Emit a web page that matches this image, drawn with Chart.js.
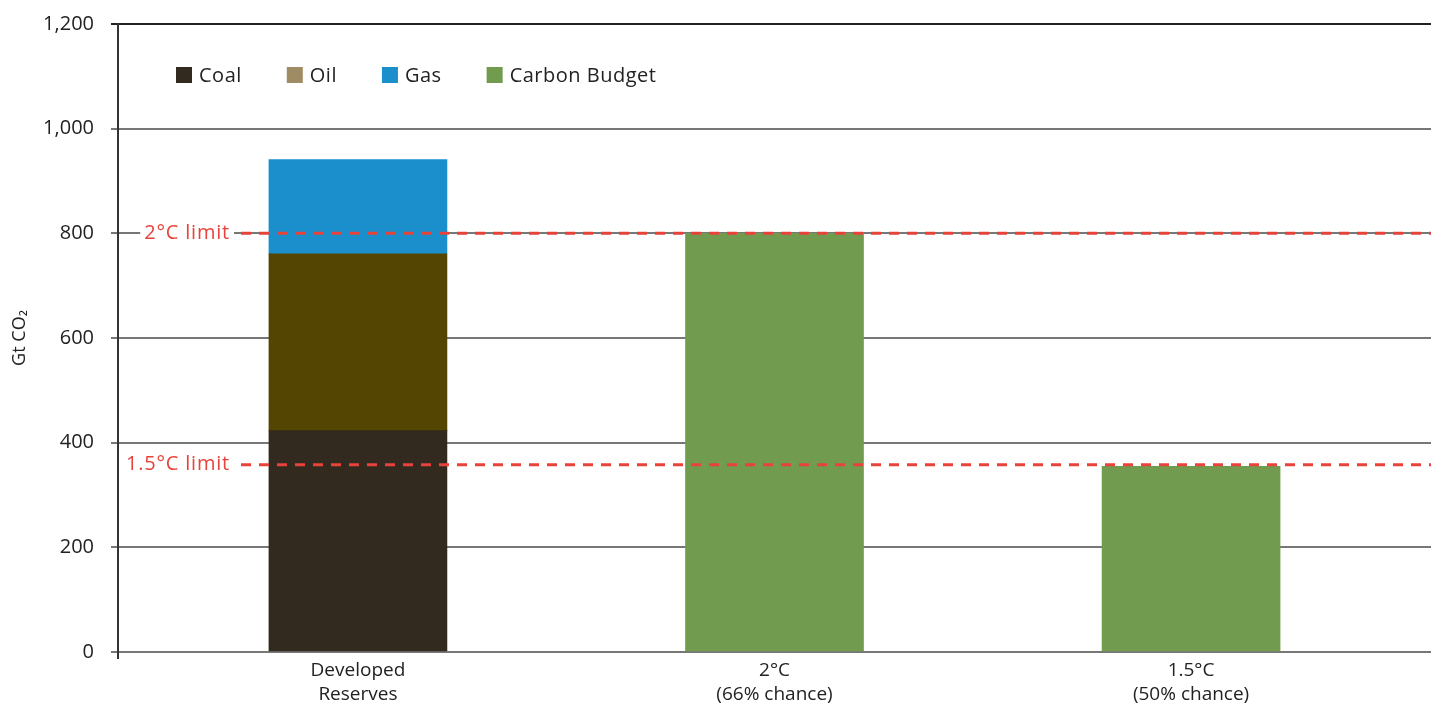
<!DOCTYPE html>
<html>
<head>
<meta charset="utf-8">
<script src="https://cdn.jsdelivr.net/npm/chart.js@4.4.1/dist/chart.umd.min.js"></script>
<style>
  html, body { margin: 0; padding: 0; background: #fff; overflow: hidden; }
  #chart { display: block; }
</style>
</head>
<body>
<canvas id="chart" width="1431" height="705"></canvas>
<script>
// data
const categories = [['Developed', 'Reserves'], ['2°C', '(66% chance)'], ['1.5°C', '(50% chance)']];
const coal = [423, null, null];
const oil = [338, null, null];
const gas = [180, null, null];
const carbonBudget = [null, 800, 355];
const yTicks = [0, 200, 400, 600, 800, 1000, 1200];
const limitValues = [800, 358];
const limitLabels = ['2°C limit', '1.5°C limit'];

const FONT = '"Open Sans", Lato, sans-serif';
const X_MIN = -0.576, X_MAX = 2.576;

function points(arr) {
    return arr.map((v, i) => ({ x: i, y: v })).filter(p => p.y !== null);
}

// legend drawn inside the plot, swatch colours as in the original
const legendPlugin = {
    id: 'insideLegend',
    afterDraw(chart) {
        const ctx = chart.ctx;
        const swatches = ['#332a1f', '#a08c64', '#1b8fcc', '#719b4e'];
        let x = 176;
        const y = 75;
        ctx.save();
        ctx.font = '20px ' + FONT;
        ctx.letterSpacing = '0.5px';
        ctx.textBaseline = 'middle';
        chart.data.datasets.forEach((ds, i) => {
            ctx.fillStyle = swatches[i];
            ctx.fillRect(x, y - 8, 16, 16);
            ctx.fillStyle = '#222';
            ctx.fillText(ds.label, x + 23, y + 1);
            x += 23 + ctx.measureText(ds.label).width + 45;
        });
        ctx.restore();
    }
};

const limitPlugin = {
    id: 'limits',
    afterDatasetsDraw(chart) {
        const ctx = chart.ctx;
        const ys = chart.scales.y;
        const area = chart.chartArea;
        ctx.save();
        ctx.font = '20px ' + FONT;
        ctx.letterSpacing = '0.8px';
        limitValues.forEach((v, i) => {
            const py = ys.getPixelForValue(v);
            const label = limitLabels[i];
            const w = ctx.measureText(label).width;
            const textRight = 230;
            const textLeft = textRight - w;
            // white box behind the label
            ctx.fillStyle = '#fff';
            ctx.fillRect(textLeft - 4, py - 11, w + 8, 22);
            ctx.fillStyle = '#e8433a';
            ctx.textBaseline = 'middle';
            ctx.textAlign = 'left';
            ctx.fillText(label, textLeft, py);
            ctx.strokeStyle = '#e8433a';
            ctx.lineWidth = 3;
            ctx.setLineDash([10, 8]);
            ctx.beginPath();
            ctx.moveTo(textRight + 11, py);
            ctx.lineTo(area.right, py);
            ctx.stroke();
        });
        ctx.restore();
    }
};

const ctx = document.getElementById('chart').getContext('2d');
new Chart(ctx, {
    type: 'bar',
    data: {
        datasets: [
            { label: 'Coal', data: points(coal), backgroundColor: '#332a1f' },
            { label: 'Oil', data: points(oil), backgroundColor: '#554503' },
            { label: 'Gas', data: points(gas), backgroundColor: '#1b8fcc' },
            { label: 'Carbon Budget', data: points(carbonBudget), backgroundColor: '#719b4e' }
        ]
    },
    options: {
        responsive: false,
        animation: false,
        maintainAspectRatio: false,
        devicePixelRatio: 1,
        layout: { padding: { top: 24, right: 0, left: 0, bottom: 0 } },
        datasets: { bar: { barThickness: 178 } },
        plugins: {
            legend: { display: false },
            tooltip: { enabled: false }
        },
        scales: {
            x: {
                type: 'linear',
                stacked: true,
                offset: false,
                min: X_MIN,
                max: X_MAX,
                afterBuildTicks(scale) {
                    scale.ticks = [{ value: X_MIN }].concat(categories.map((c, i) => ({ value: i })));
                },
                afterFit(scale) {
                    scale.height = 53;
                    scale.paddingLeft = 0;
                    scale.paddingRight = 0;
                },
                border: { display: false },
                grid: {
                    offset: false,
                    drawOnChartArea: false,
                    tickLength: 7,
                    color: c => (c.tick && c.tick.value === X_MIN) ? '#333' : 'rgba(0,0,0,0)',
                    lineWidth: 2
                },
                ticks: {
                    autoSkip: false,
                    maxRotation: 0,
                    padding: -1,
                    color: '#222',
                    font: { family: FONT, size: 19, lineHeight: 1.3 },
                    callback: (v) => (v >= 0 && Number.isInteger(v)) ? categories[v] : ''
                }
            },
            y: {
                stacked: true,
                min: 0,
                max: 1200,
                afterBuildTicks(scale) {
                    scale.ticks = yTicks.map(v => ({ value: v }));
                },
                afterFit(scale) {
                    scale.width = 118;
                    scale.paddingTop = 0;
                    scale.paddingBottom = 0;
                },
                border: { display: true, color: '#333', width: 2 },
                grid: {
                    tickLength: 7,
                    lineWidth: 2,
                    color: c => c.tick && c.tick.value === 1200 ? '#222' : '#777'
                },
                ticks: {
                    padding: 17,
                    color: '#222',
                    font: { family: FONT, size: 20 },
                    callback: v => v.toLocaleString('en-US')
                },
                title: {
                    display: true,
                    text: 'Gt CO₂',
                    color: '#222',
                    font: { family: FONT, size: 18 },
                    padding: { top: 9, bottom: 0 }
                }
            }
        }
    },
    plugins: [limitPlugin, legendPlugin]
});
</script>
</body>
</html>
